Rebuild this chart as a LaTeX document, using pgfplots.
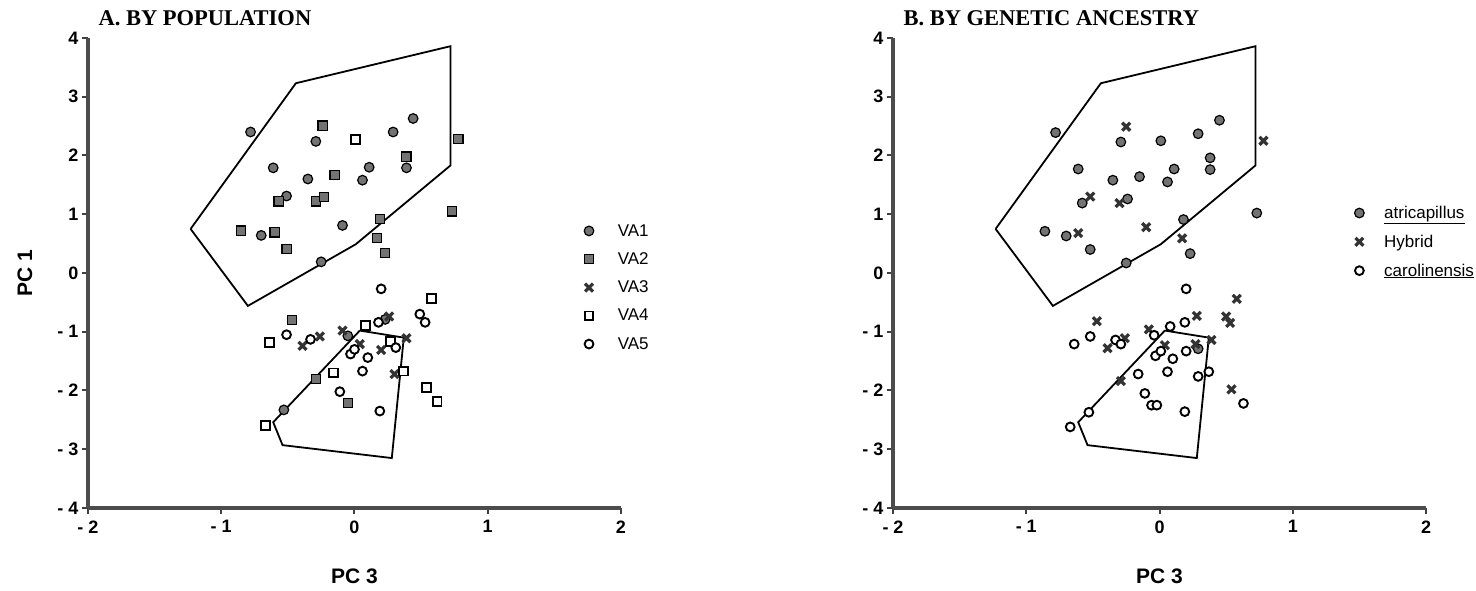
\documentclass[border=0pt]{standalone}
\usepackage{fontspec}
\setmainfont{Liberation Sans}
\newfontfamily\titlefont{Liberation Serif}
\usepackage{pgfplots}
\pgfplotsset{compat=1.18}

\pgfplotsset{
  pcaxis/.style={
    scale only axis, width=533pt, height=470pt,
    xmin=-2, xmax=2, ymin=-4, ymax=4,
    axis x line*=bottom, axis y line*=left,
    axis line style={line width=3.4pt, black!70},
    every outer x axis line/.append style={line width=3.4pt, black!70},
    every outer y axis line/.append style={line width=3.4pt, black!70},
    xtick={-2,-1,0,1,2}, xticklabels={- 2,- 1,0,1,2},
    ytick={-4,-3,-2,-1,0,1,2,3,4}, yticklabels={- 4,- 3,- 2,- 1,0,1,2,3,4},
    /pgf/number format/assume math mode=true,
    tick align=outside, major tick length=6pt,
    every tick/.style={line width=2pt, black!75},
    ticklabel style={font=\fontsize{18}{20}\selectfont\bfseries},
    xticklabel style={yshift=-3pt},
    clip=false,
    xlabel={PC 3},
    every axis x label/.style={at={(axis cs:0,-4)}, anchor=center, yshift=-68pt,
      font=\fontsize{21}{24}\selectfont\bfseries},
    every axis title/.style={at={(axis description cs:0,1)}, anchor=base west,
      xshift=7pt, yshift=12pt, font=\fontsize{22.5}{24}\selectfont\titlefont\bfseries},
    legend cell align=left,
    legend style={draw=none, fill=none, font=\fontsize{17}{19}\selectfont,
      row sep=11pt},
  },
  hull/.style={black, line width=1.8pt, mark=none, forget plot},
  grayc/.style={only marks, mark=*, mark size=4.8pt,
    mark options={solid, draw=black, fill=black!55, line width=1.2pt}},
  grays/.style={only marks, mark=square*, mark size=4.6pt,
    mark options={solid, draw=black, fill=black!55, line width=1.2pt}},
  cross/.style={only marks, mark=x, mark size=5.6pt,
    mark options={solid, draw=black!80, line width=3.2pt}},
  opens/.style={only marks, mark=square*, mark size=4.4pt,
    mark options={solid, draw=black, fill=white, line width=1.9pt}},
  openc/.style={only marks, mark=*, mark size=4.4pt,
    mark options={solid, draw=black, fill=white, line width=1.9pt}},
}

\begin{document}
\begin{tikzpicture}
\path[use as bounding box] (0,0) rectangle (1476pt,591pt);

% Panel A: points grouped by population
\begin{axis}[pcaxis, at={(88pt,83pt)}, anchor=south west,
  title={A. BY POPULATION},
  ylabel={PC 1},
  every axis y label/.style={at={(axis cs:-2,0)}, xshift=-63pt, rotate=90,
    anchor=center, font=\fontsize{21}{24}\selectfont\bfseries},
  legend style={at={(axis cs:1.70,0.90)}, anchor=north west,
    /tikz/every odd column/.append style={column sep=22pt}}]
\addplot[hull] coordinates {(-1.23,0.75) (-0.44,3.23) (0.72,3.86) (0.72,1.83)
  (0.01,0.49) (-0.80,-0.56) (-1.23,0.75)};
\addplot[hull] coordinates {(0.04,-0.98) (0.37,-1.10) (0.28,-3.15) (-0.54,-2.93)
  (-0.61,-2.54) (0.04,-0.98)};
\addplot[grayc] coordinates {
  (-0.78,2.40) (-0.29,2.24) (0.29,2.40) (0.44,2.63) (-0.61,1.79) (0.11,1.80)
  (0.39,1.79) (-0.35,1.60) (0.06,1.58) (-0.51,1.31) (-0.70,0.64) (-0.09,0.81)
  (-0.25,0.19) (-0.53,-2.33) (-0.05,-1.07) (0.23,-0.79)};
\addlegendentry{VA1}
\addplot[grays] coordinates {
  (-0.24,2.51) (0.78,2.28) (0.39,1.98) (-0.15,1.67) (-0.57,1.22) (-0.29,1.22)
  (-0.23,1.29) (-0.85,0.72) (-0.60,0.69) (-0.51,0.41) (0.73,1.05) (0.19,0.92)
  (0.17,0.60) (0.23,0.34) (-0.47,-0.80) (-0.29,-1.80) (-0.05,-2.21)};
\addlegendentry{VA2}
\addplot[cross] coordinates {
  (-0.39,-1.24) (-0.26,-1.08) (-0.09,-0.98) (0.04,-1.21) (0.20,-1.31)
  (0.26,-0.74) (0.39,-1.11) (0.30,-1.72)};
\addlegendentry{VA3}
\addplot[opens] coordinates {
  (0.01,2.27) (0.58,-0.43) (0.08,-0.89) (-0.64,-1.18) (-0.16,-1.70) (0.37,-1.67)
  (0.54,-1.95) (0.62,-2.19) (-0.67,-2.59) (0.27,-1.17)};
\addlegendentry{VA4}
\addplot[openc] coordinates {
  (0.20,-0.27) (0.49,-0.70) (0.53,-0.84) (-0.51,-1.05) (-0.33,-1.13) (0.18,-0.84)
  (-0.03,-1.38) (0.00,-1.30) (0.10,-1.44) (0.06,-1.67) (0.31,-1.27) (-0.11,-2.02)
  (0.19,-2.35)};
\addlegendentry{VA5}
\end{axis}

% Panel B: the same points grouped by genetic ancestry
\begin{axis}[pcaxis, at={(893pt,83pt)}, anchor=south west,
  title={B. BY GENETIC ANCESTRY},
  legend style={at={(axis cs:1.44,1.21)}, anchor=north west,
    /tikz/every odd column/.append style={column sep=18pt}}]
\addplot[hull] coordinates {(-1.23,0.75) (-0.44,3.23) (0.72,3.86) (0.72,1.83)
  (0.01,0.49) (-0.80,-0.56) (-1.23,0.75)};
\addplot[hull] coordinates {(0.04,-0.98) (0.37,-1.10) (0.28,-3.15) (-0.54,-2.93)
  (-0.61,-2.54) (0.04,-0.98)};
\addplot[grayc] coordinates {
  (-0.78,2.39) (-0.29,2.23) (0.01,2.25) (0.29,2.37) (0.45,2.60) (-0.61,1.77)
  (-0.15,1.64) (0.11,1.77) (0.38,1.96) (0.38,1.76) (-0.35,1.58) (0.06,1.55)
  (-0.58,1.19) (-0.24,1.26) (-0.86,0.71) (-0.70,0.63) (-0.52,0.40) (0.18,0.91)
  (0.23,0.33) (0.73,1.02) (-0.25,0.17) (0.29,-1.29)};
\addlegendentry{\underline{atricapillus}}
\addplot[cross] coordinates {
  (-0.25,2.49) (0.78,2.25) (-0.52,1.30) (-0.30,1.19) (-0.61,0.68) (-0.10,0.78)
  (0.17,0.59) (0.58,-0.44) (-0.47,-0.82) (-0.39,-1.28) (-0.26,-1.11) (-0.08,-0.96)
  (0.28,-0.73) (0.04,-1.23) (0.39,-1.14) (-0.29,-1.84) (0.54,-1.98) (0.50,-0.74)
  (0.53,-0.85) (0.27,-1.21)};
\addlegendentry{Hybrid}
\addplot[openc] coordinates {
  (0.20,-0.27) (-0.64,-1.21) (-0.52,-1.08) (-0.33,-1.14) (-0.29,-1.21) (-0.04,-1.06)
  (0.08,-0.91) (0.19,-0.84) (-0.03,-1.41) (0.01,-1.33) (0.10,-1.46) (0.20,-1.33)
  (-0.16,-1.72) (0.06,-1.68) (0.29,-1.76) (0.37,-1.68) (-0.11,-2.05) (-0.06,-2.25)
  (-0.02,-2.25) (0.19,-2.36) (0.63,-2.22) (-0.53,-2.37) (-0.67,-2.62)};
\addlegendentry{\underline{carolinensis}}
\end{axis}
\end{tikzpicture}
\end{document}
